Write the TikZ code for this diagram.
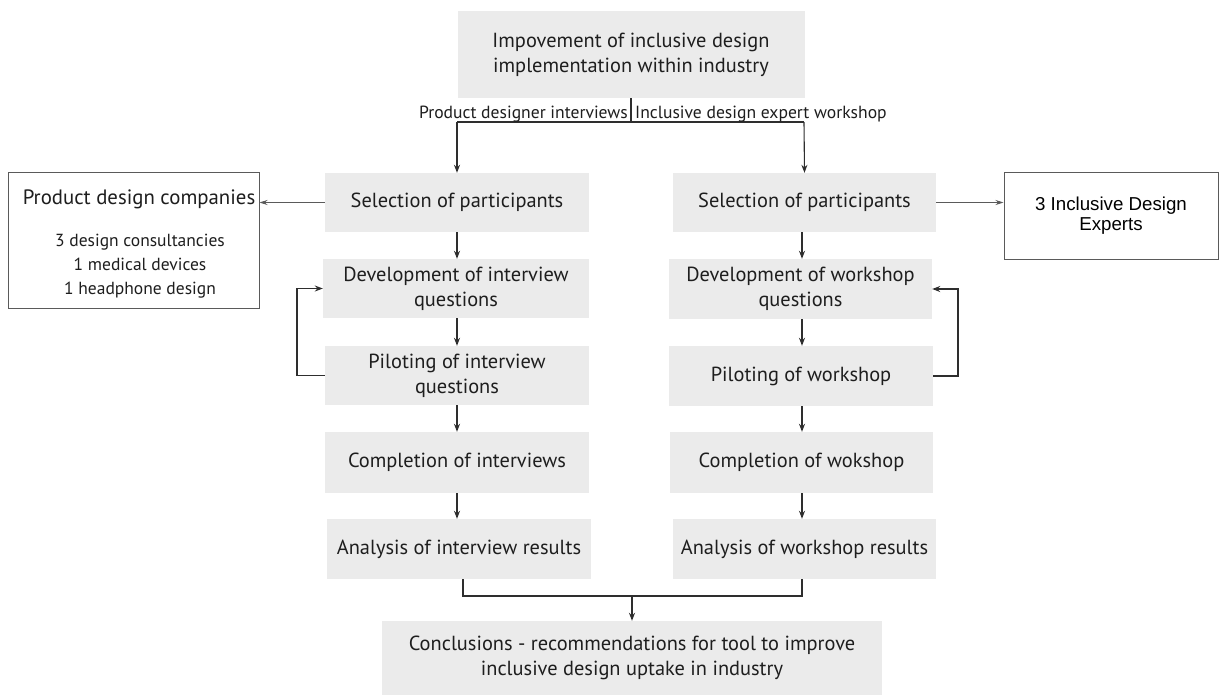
\documentclass[tikz,border=0pt]{standalone}
\usepackage{fontspec}
\setmainfont{PT Sans}
\newfontfamily\arialfont{Liberation Sans}
\usetikzlibrary{arrows.meta}
\definecolor{boxgray}{HTML}{EBEBEB}
\definecolor{linegray}{HTML}{2E2E2E}
\definecolor{sidegray}{HTML}{5A5A5A}
\definecolor{txt}{HTML}{1E1E1E}
\tikzset{
  gbox/.style={fill=boxgray, draw=none, align=center, inner sep=0pt,
    font=\fontsize{20.4}{25}\selectfont, text=txt},
  wbox/.style={fill=white, draw=sidegray, line width=1pt, align=center, inner sep=0pt},
  conn/.style={draw=linegray, line width=1.1pt},
  arr/.style={conn, -{Stealth[length=8pt,width=6pt]}},
  sidearr/.style={draw=sidegray, line width=0.9pt, -{Stealth[length=8pt,width=5pt]}},
  lbl/.style={font=\fontsize{17.6}{20}\selectfont, text=txt, inner sep=0pt}
}
\begin{document}
\begin{tikzpicture}[x=1pt,y=-1pt]
\useasboundingbox[fill=white] (0,0) rectangle (1219,697);

% top box
\node[gbox, minimum width=347pt, minimum height=87pt] (top) at (631,54.5)
  {Impovement of inclusive design\\implementation within industry};

% left column
\node[gbox, minimum width=264pt, minimum height=59pt] (L1) at (457,202.5) {Selection of participants};
\node[gbox, minimum width=266pt, minimum height=59pt] (L2) at (456,288.5) {Development of interview\\questions};
\node[gbox, minimum width=264pt, minimum height=59pt] (L3) at (457,375.5) {Piloting of interview\\questions};
\node[gbox, minimum width=264pt, minimum height=61pt] (L4) at (457,462.5) {Completion of interviews};
\node[gbox, minimum width=264pt, minimum height=60pt] (L5) at (459,549) {Analysis of interview results};

% right column
\node[gbox, minimum width=263pt, minimum height=59pt] (R1) at (804.5,202.5) {Selection of participants};
\node[gbox, minimum width=263pt, minimum height=60pt] (R2) at (800.5,289) {Development of workshop\\questions};
\node[gbox, minimum width=264pt, minimum height=60pt] (R3) at (801,376) {Piloting of workshop};
\node[gbox, minimum width=263pt, minimum height=61pt] (R4) at (801.5,462.5) {Completion of wokshop};
\node[gbox, minimum width=263pt, minimum height=60pt] (R5) at (804.5,549) {Analysis of workshop results};

% conclusions
\node[gbox, minimum width=500pt, minimum height=74pt] (C) at (632,658)
  {Conclusions - recommendations for tool to improve\\inclusive design uptake in industry};

% side boxes
\node[wbox, minimum width=251pt, minimum height=136pt] (PDC) at (133.5,240) {};
\node[font=\fontsize{20.8}{24}\selectfont, text=txt, inner sep=0pt, anchor=base] (pdct) at (139,204) {Product design companies};
\node[font=\fontsize{17.5}{24}\selectfont, text=txt, inner sep=0pt, align=center, anchor=north] (pdcl) at (140,234)
  {3 design consultancies\\1 medical devices\\1 headphone design};

\node[wbox, minimum width=214pt, minimum height=87pt, text=black, font=\arialfont\fontsize{18.7}{20.5}\selectfont] (IDE) at (1111,215.5)
  {3 Inclusive Design\\Experts};

% split at top
\coordinate (jM) at (631,122);
\coordinate (jL) at (457,122);
\coordinate (jR) at (804,122);
\draw[conn] (top.south) -- (jM);
\draw[conn] (jL) -- (jR);
\draw[arr] (jL) -- (L1.north);
\draw[arr] (jR) -- (R1.north);
\node[lbl, anchor=base east] (lblL) at (628,118) {Product designer interviews};
\node[lbl, anchor=base west] (lblR) at (635,118) {Inclusive design expert workshop};

% left chain
\draw[arr] (L1.south) -- (L1.south |- L2.north);
\draw[arr] (L2.south -| L1.south) -- (L1.south |- L3.north);
\draw[arr] (L3.south) -- (L3.south |- L4.north);
\draw[arr] (L4.south) -- (L4.south |- L5.north);

% right chain
\coordinate (rx) at (802,0);
\draw[arr] (R1.south -| rx) -- (rx |- R2.north);
\draw[arr] (R2.south -| rx) -- (rx |- R3.north);
\draw[arr] (R3.south -| rx) -- (rx |- R4.north);
\draw[arr] (R4.south -| rx) -- (rx |- R5.north);

% feedback loops
\coordinate (loopL) at (297,0);
\coordinate (loopR) at (958,0);
\draw[arr] (L3.west) -- (L3.west -| loopL) |- (L2.west);
\draw[arr] (R3.east) -- (R3.east -| loopR) |- (R2.east);

% side arrows
\draw[sidearr] (L1.west) -- (L1.west -| PDC.east);
\draw[sidearr] (R1.east) -- (R1.east -| IDE.west);

% join at bottom
\coordinate (bL) at (463,596);
\coordinate (bR) at (802,596);
\coordinate (bM) at (632,596);
\draw[conn] (bL |- L5.south) -- (bL) -- (bR) -- (bR |- R5.south);
\draw[arr] (bM) -- (C.north);
\end{tikzpicture}
\end{document}
